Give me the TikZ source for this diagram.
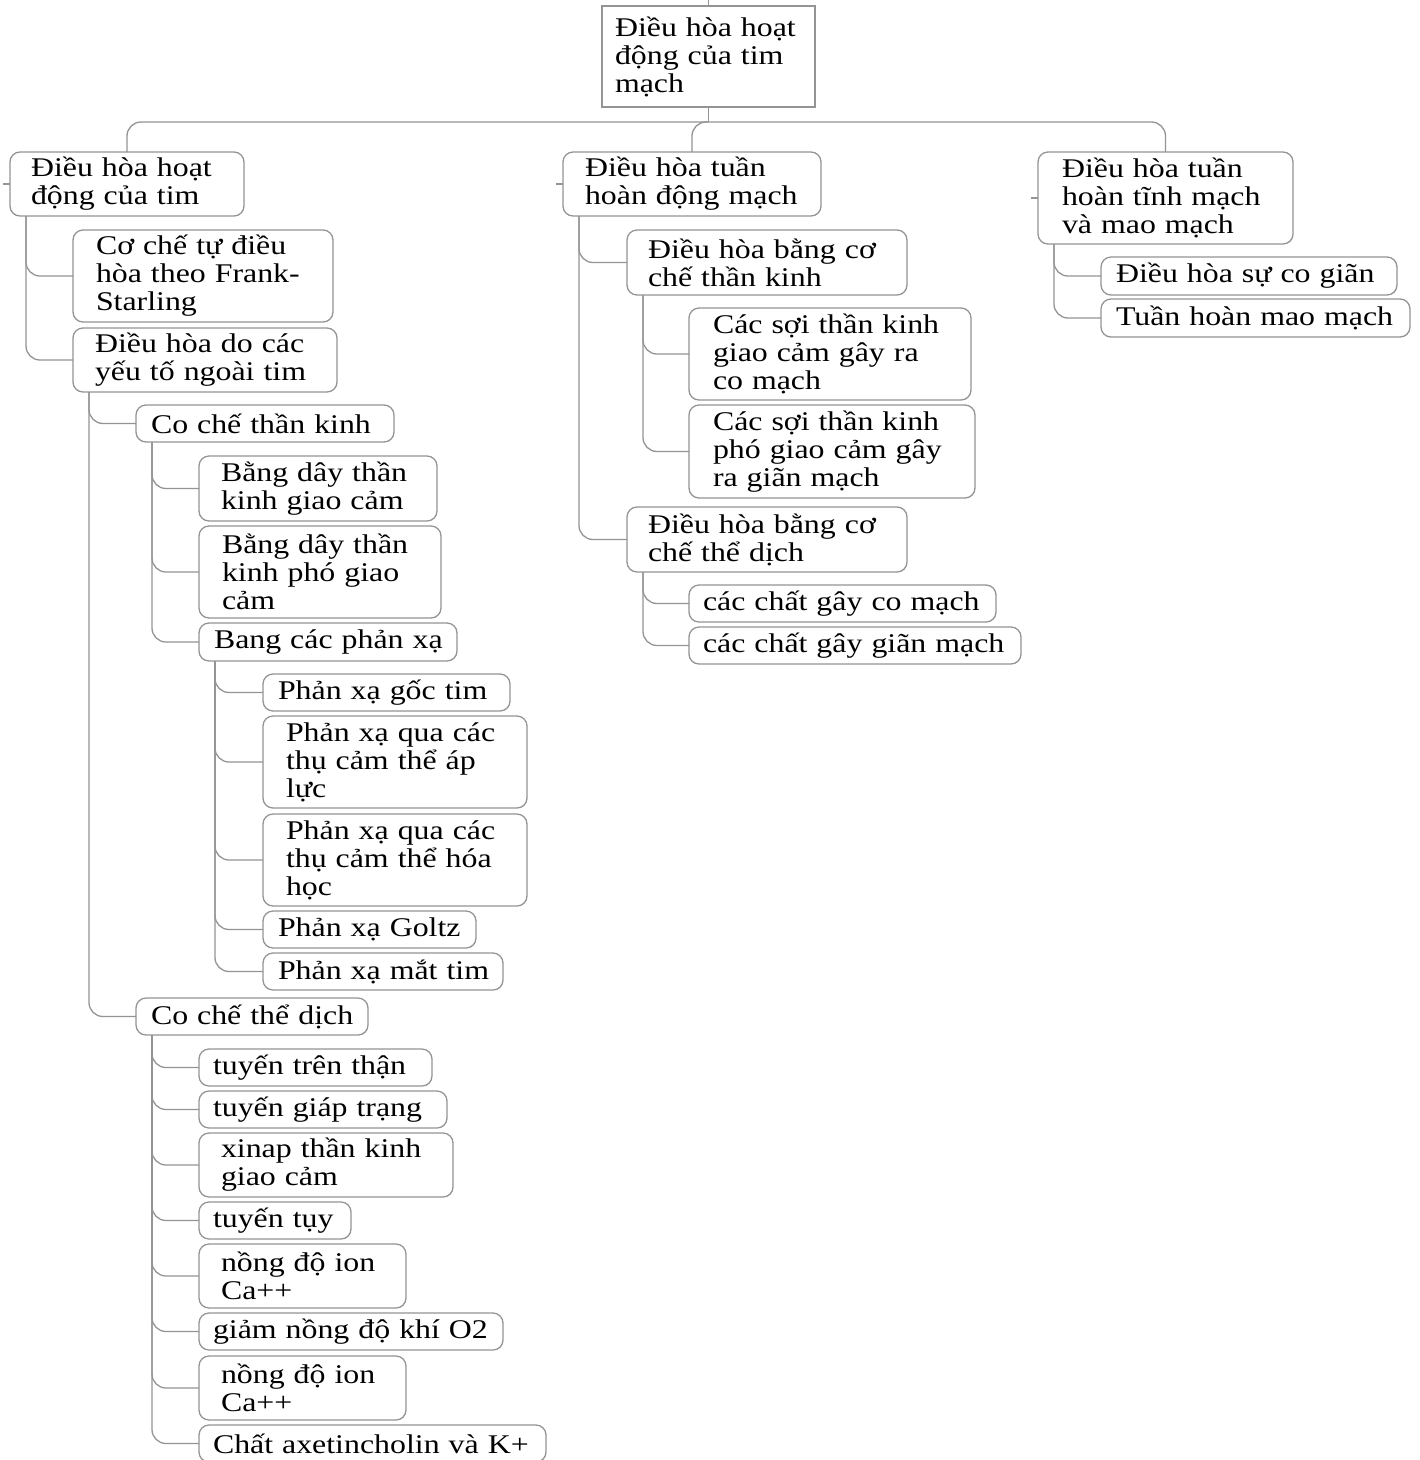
\documentclass[tikz,border=0pt]{standalone}
\usepackage{fontspec}
\setmainfont{Liberation Serif}[FakeStretch=1.18]
\newcommand\Ln[1]{\mbox{#1}}
\tikzset{
  x=1pt, y=-1pt,
  conn/.style={draw=black!42, line width=1.3pt, rounded corners=14pt},
  dims/.code n args={3}{%
    \pgfmathsetmacro\boxtw{#1-2*#3}%
    \pgfkeysalso{minimum width=#1pt, minimum height=#2pt, inner xsep=#3pt, text width=\boxtw pt}},
  card/.style={draw=black!42, line width=1.3pt, rounded corners=10pt, anchor=north west,
    outer sep=0pt, inner ysep=2pt, align=left, text=black,
    font=\fontsize{27}{28}\selectfont},
  rootcard/.style={card, rounded corners=0pt},
}
\begin{document}
\begin{tikzpicture}
\fill[white] (0,0) rectangle (1420,1460);
\useasboundingbox (0,0) rectangle (1420,1460);

% root
\node[rootcard, dims={213}{101}{13}] (root) at (602,6) {\Ln{Điều hòa hoạt}\\\Ln{động của tim}\\\Ln{mạch}};

% first level
\node[card, dims={234}{64}{21}] (heart) at (10,152) {\Ln{Điều hòa hoạt}\\\Ln{động của tim}};
\node[card, dims={258}{64}{22}] (artery) at (563,152) {\Ln{Điều hòa tuần}\\\Ln{hoàn động mạch}};
\node[card, dims={255}{92}{24}] (vein) at (1038,152) {\Ln{Điều hòa tuần}\\\Ln{hoàn tĩnh mạch}\\\Ln{và mao mạch}};

% heart branch
\node[card, dims={260}{92}{23}] (frank) at (73,230) {\Ln{Cơ chế tự điều}\\\Ln{hòa theo Frank-}\\\Ln{Starling}};
\node[card, dims={264}{64}{22}] (outer) at (73,328) {\Ln{Điều hòa do các}\\\Ln{yếu tố ngoài tim}};
\node[card, dims={258}{37}{15}] (nerve) at (136,405) {\Ln{Co chế thần kinh}};
\node[card, dims={232}{37}{15}] (humor) at (136,998) {\Ln{Co chế thể dịch}};

\node[card, dims={238}{65}{22}] (symp) at (199,456) {\Ln{Bằng dây thần}\\\Ln{kinh giao cảm}};
\node[card, dims={242}{92}{23}] (parasymp) at (199,526) {\Ln{Bằng dây thần}\\\Ln{kinh phó giao}\\\Ln{cảm}};
\node[card, dims={258}{38}{15}] (reflex) at (199,623) {\Ln{Bang các phản xạ}};

\node[card, dims={247}{37}{15}] (rf1) at (263,674) {\Ln{Phản xạ gốc tim}};
\node[card, dims={264}{92}{23}] (rf2) at (263,716) {\Ln{Phản xạ qua các}\\\Ln{thụ cảm thể áp}\\\Ln{lực}};
\node[card, dims={264}{92}{23}] (rf3) at (263,814) {\Ln{Phản xạ qua các}\\\Ln{thụ cảm thể hóa}\\\Ln{học}};
\node[card, dims={213}{37}{15}] (rf4) at (263,911) {\Ln{Phản xạ Goltz}};
\node[card, dims={240}{37}{15}] (rf5) at (263,953) {\Ln{Phản xạ mắt tim}};

\node[card, dims={233}{37}{14}] (h1) at (199,1049) {\Ln{tuyến trên thận}};
\node[card, dims={248}{37}{14}] (h2) at (199,1091) {\Ln{tuyến giáp trạng}};
\node[card, dims={254}{64}{22}] (h3) at (199,1133) {\Ln{xinap thần kinh}\\\Ln{giao cảm}};
\node[card, dims={152}{37}{14}] (h4) at (199,1202) {\Ln{tuyến tụy}};
\node[card, dims={207}{64}{22}] (h5) at (199,1244) {\Ln{nồng độ ion}\\\Ln{Ca++}};
\node[card, dims={304}{37}{14}] (h6) at (199,1313) {\Ln{giảm nồng độ khí O2}};
\node[card, dims={207}{64}{22}] (h7) at (199,1356) {\Ln{nồng độ ion}\\\Ln{Ca++}};
\node[card, dims={347}{37}{14}] (h8) at (199,1425) {\Ln{Chất axetincholin và K+}};

% artery branch
\node[card, dims={280}{65}{21}] (anerve) at (627,230) {\Ln{Điều hòa bằng cơ}\\\Ln{chế thần kinh}};
\node[card, dims={282}{92}{24}] (an1) at (689,308) {\Ln{Các sợi thần kinh}\\\Ln{giao cảm gây ra}\\\Ln{co mạch}};
\node[card, dims={286}{93}{24}] (an2) at (689,405) {\Ln{Các sợi thần kinh}\\\Ln{phó giao cảm gây}\\\Ln{ra giãn mạch}};
\node[card, dims={280}{65}{21}] (ahumor) at (627,507) {\Ln{Điều hòa bằng cơ}\\\Ln{chế thể dịch}};
\node[card, dims={307}{37}{14}] (ah1) at (689,585) {\Ln{các chất gây co mạch}};
\node[card, dims={332}{37}{14}] (ah2) at (689,627) {\Ln{các chất gây giãn mạch}};

% vein branch
\node[card, dims={296}{38}{15}] (v1) at (1101,257) {\Ln{Điều hòa sự co giãn}};
\node[card, dims={309}{38}{15}] (v2) at (1101,299) {\Ln{Tuần hoàn mao mạch}};

% top bus
\coordinate (bus) at ([yshift=-15pt]root.south);
\draw[conn] (root.south) -- (bus);
\draw[conn] (root.north) -- ++(0,-6);
\draw[conn] (bus) -| (heart.north);
\draw[conn] (bus) -| (artery.north);
\draw[conn] (bus) -| (vein.north);
\foreach \n in {heart,artery,vein} \draw[conn] (\n.west) -- ++(-7,0);

% tree connectors: parent trunk to child
\foreach \p/\c in {heart/frank, heart/outer,
                   outer/nerve, outer/humor,
                   nerve/symp, nerve/parasymp, nerve/reflex,
                   reflex/rf1, reflex/rf2, reflex/rf3, reflex/rf4, reflex/rf5,
                   humor/h1, humor/h2, humor/h3, humor/h4, humor/h5, humor/h6, humor/h7, humor/h8,
                   artery/anerve, artery/ahumor,
                   anerve/an1, anerve/an2,
                   ahumor/ah1, ahumor/ah2,
                   vein/v1, vein/v2}
  \draw[conn] ([xshift=16pt]\p.south west) |- (\c.west);
\end{tikzpicture}
\end{document}
